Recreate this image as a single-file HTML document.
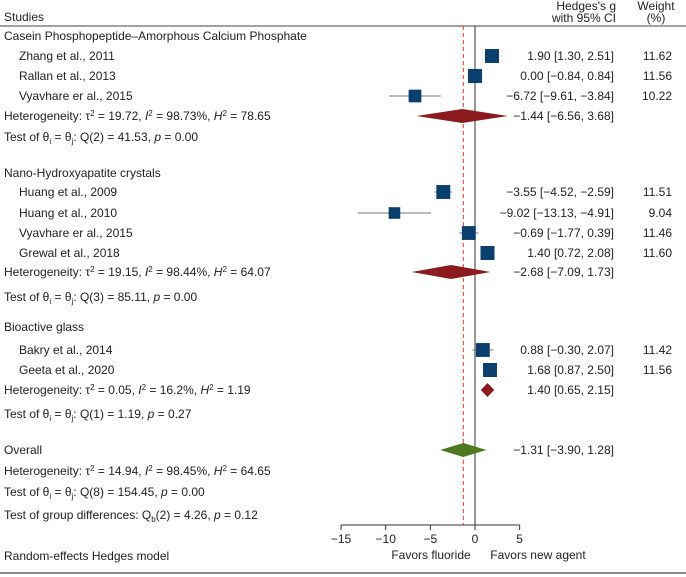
<!DOCTYPE html>
<html><head><meta charset="utf-8"><style>
body{margin:0;background:#fff;font-family:"Liberation Sans",sans-serif;font-size:12px;color:#222}
svg text{font-family:"Liberation Sans",sans-serif;font-size:12px;fill:#222}
</style></head><body>
<svg width="686" height="574">
<g id="plot"></g>
</svg>
<script>
const labels=["Zhang et al., 2011","Rallan et al., 2013","Vyavhare er al., 2015","Huang et al., 2009","Huang et al., 2010","Vyavhare er al., 2015","Grewal et al., 2018","Bakry et al., 2014","Geeta et al., 2020"];
const est=[1.90,0.00,-6.72,-3.55,-9.02,-0.69,1.40,0.88,1.68];
const lo=[1.30,-0.84,-9.61,-4.52,-13.13,-1.77,0.72,-0.30,0.87];
const hi=[2.51,0.84,-3.84,-2.59,-4.91,0.39,2.08,2.07,2.50];
const weights=["11.62","11.56","10.22","11.51","9.04","11.46","11.60","11.42","11.56"];
const studyY=[56,76,96,192,213,233,253,350,370];
const pooledEst=[-1.44,-2.68,1.40,-1.31];
const pooledLo=[-6.56,-7.09,0.65,-3.90];
const pooledHi=[3.68,1.73,2.15,1.28];
const pooledY=[116,272,390,450];
const ticks=[-15,-10,-5,0,5];
const overall=-1.31;
const X=v=>475+v*8.93;
const g=document.getElementById('plot');const NS="http://www.w3.org/2000/svg";
function el(t,a,txt){const e=document.createElementNS(NS,t);for(const k in a)e.setAttribute(k,a[k]);if(txt!==undefined)e.textContent=txt;g.appendChild(e);return e;}
const fmt=v=>(v<0?"\u2212":"")+Math.abs(v).toFixed(2);
const ci=(e,l,h)=>fmt(e)+" ["+fmt(l)+", "+fmt(h)+"]";
let e;
e=el('text',{x:4,y:21},"Studies");
e=el('text',{x:616,y:10,'text-anchor':'end'},"Hedges's g");
el('text',{x:616,y:22,'text-anchor':'end'},"with 95% CI");
e=el('text',{x:656,y:10,'text-anchor':'middle'},"Weight");
el('text',{x:656,y:22,'text-anchor':'middle'},"(%)");
el('line',{x1:0,x2:686,y1:26,y2:26,stroke:'#444','stroke-width':1});
el('line',{x1:0,x2:686,y1:573,y2:573,stroke:'#444','stroke-width':1.2});
e=el('line',{x1:X(0),x2:X(0),y1:26,y2:525,stroke:'#333','stroke-width':1});
e=el('line',{x1:X(overall),x2:X(overall),y1:26,y2:525,stroke:'#f03030','stroke-width':1,'stroke-dasharray':'4,3'});
const T=[[36,"Casein Phosphopeptide–Amorphous Calcium Phosphate"],[173,"Nano-Hydroxyapatite crystals"],[327,"Bioactive glass"],[450,"Overall"],[556,"Random-effects Hedges model"]];
T.forEach(t=>{const e=el('text',{x:4,y:t[0]+4},t[1]);});
const het=[[116,"19.72","98.73%","78.65"],[272,"19.15","98.44%","64.07"],[390,"0.05","16.2%","1.19"],[471,"14.94","98.45%","64.65"]];
het.forEach(h=>{const e=el('text',{x:4,y:h[0]+4});e.innerHTML='Heterogeneity: τ<tspan dy="-4" font-size="8">2</tspan><tspan dy="4"> = '+h[1]+', </tspan><tspan font-style="italic">I</tspan><tspan dy="-4" font-size="8">2</tspan><tspan dy="4"> = '+h[2]+', </tspan><tspan font-style="italic">H</tspan><tspan dy="-4" font-size="8">2</tspan><tspan dy="4"> = '+h[3]+'</tspan>';});
const tst=[[137,"Q(2) = 41.53"],[297,"Q(3) = 85.11"],[414,"Q(1) = 1.19"],[492,"Q(8) = 154.45"]];
const pv=["0.00","0.00","0.27","0.00"];
tst.forEach((t,i)=>{const e=el('text',{x:4,y:t[0]+4});e.innerHTML='Test of θ<tspan dy="3" font-size="8">i</tspan><tspan dy="-3"> = θ</tspan><tspan dy="3" font-size="8">j</tspan><tspan dy="-3">: '+t[1]+', </tspan><tspan font-style="italic">p</tspan> = '+pv[i];});
e=el('text',{x:4,y:519});e.innerHTML='Test of group differences: Q<tspan dy="3" font-size="8">b</tspan><tspan dy="-3">(2) = 4.26, </tspan><tspan font-style="italic">p</tspan> = 0.12';
labels.forEach((l,i)=>{const y=studyY[i];
 let e=el('text',{x:19,y:y+4},l);
 e=el('line',{x1:X(lo[i]),x2:X(hi[i]),y1:y,y2:y,stroke:'#777','stroke-width':1});
 const s=3+parseFloat(weights[i])*0.95;
 e=el('rect',{x:X(est[i])-s/2,y:y-s/2,width:s,height:s,fill:'#0b3f6e'});
 e=el('text',{x:614,y:y+4,'text-anchor':'end'},ci(est[i],lo[i],hi[i]));
 e=el('text',{x:672,y:y+4,'text-anchor':'end'},weights[i]);
});
pooledEst.forEach((v,i)=>{const y=pooledY[i];const c=i==3?'#4d7a1f':'#8b1b1e';
 let e=el('polygon',{points:`${X(pooledLo[i])},${y} ${X(v)},${y-7} ${X(pooledHi[i])},${y} ${X(v)},${y+7}`,fill:c});
 e=el('text',{x:614,y:y+4,'text-anchor':'end'},ci(v,pooledLo[i],pooledHi[i]));
});
e=el('line',{x1:X(-15),x2:X(5),y1:525,y2:525,stroke:'#333','stroke-width':1});
ticks.forEach(t=>{el('line',{x1:X(t),x2:X(t),y1:525,y2:530,stroke:'#333'});const e=el('text',{x:X(t),y:543,'text-anchor':'middle'},(t<0?"\u2212":"")+Math.abs(t));});
e=el('text',{x:431,y:559,'text-anchor':'middle'},"Favors fluoride");
e=el('text',{x:538,y:559,'text-anchor':'middle'},"Favors new agent");
</script>
</body></html>
